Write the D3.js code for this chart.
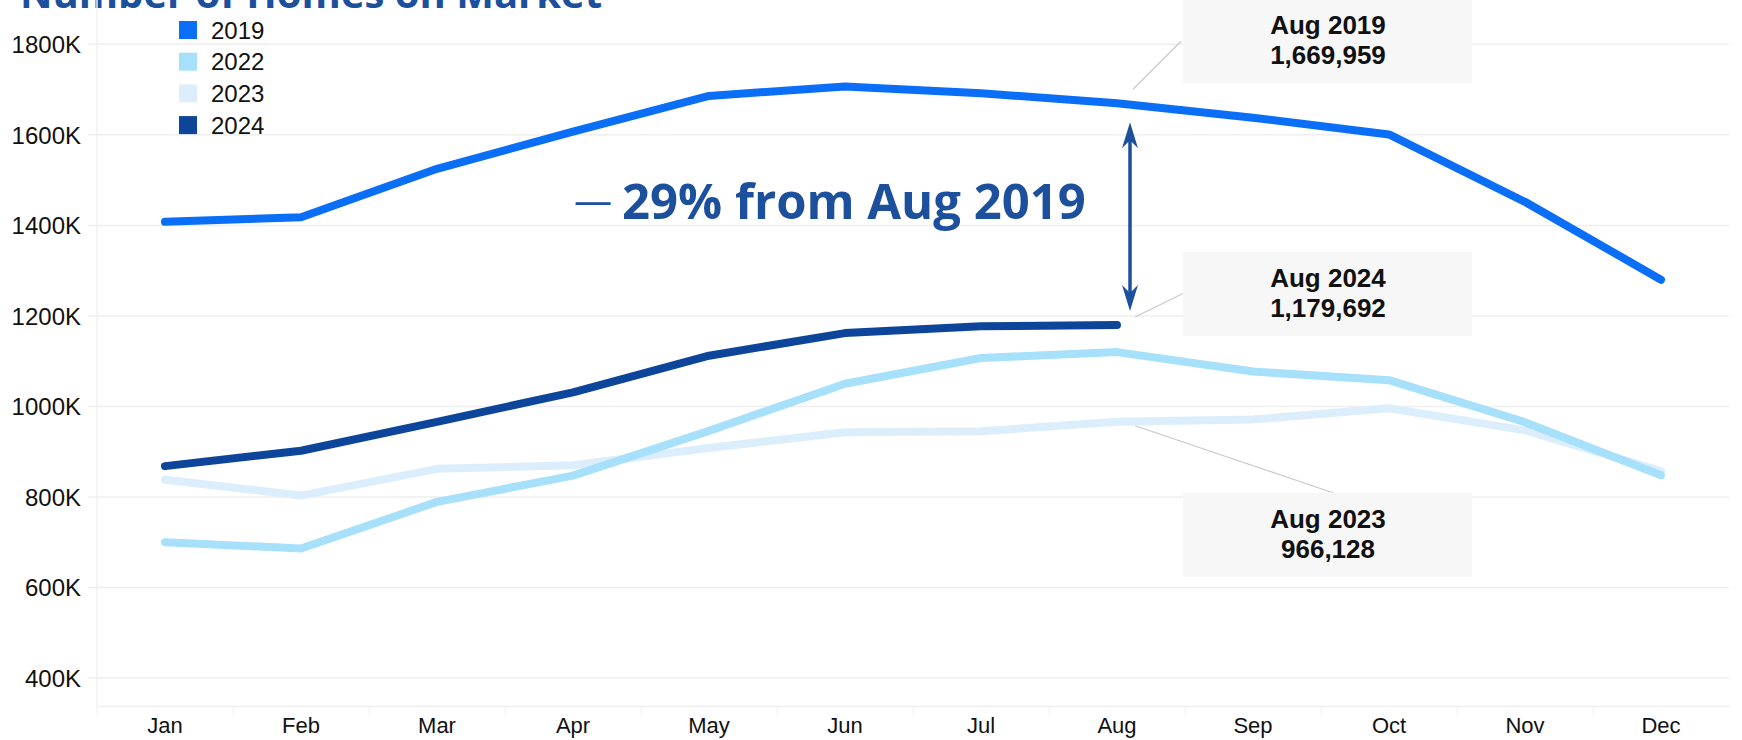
<!DOCTYPE html>
<head>
	<meta charset="utf-8">
	<title>Homes on market</title>
	<script src="https://cdn.jsdelivr.net/npm/d3@7"></script>
	<style>
		body { margin: 0; background: #fff; }
		text { font-family: "Liberation Sans", Arial, sans-serif; }
		.title, .callout { font-family: "Open Sans", sans-serif; font-weight: bold; fill: #1c4f9c; }
		.tick-label { font-size: 24px; fill: #111; }
		.note { font-size: 26px; font-weight: bold; fill: #111; }
	</style>
</head>

<body>
	<div id="chart"></div>
	<script>
		// data (number of homes on market)
		var months = ["Jan", "Feb", "Mar", "Apr", "May", "Jun", "Jul", "Aug", "Sep", "Oct", "Nov", "Dec"];
		var years = ["2019", "2022", "2023", "2024"];
		var v2019 = [1408000, 1418000, 1525000, 1607000, 1686000, 1707000, 1692000, 1669959, 1638000, 1601000, 1452000, 1280000];
		var v2022 = [700000, 686000, 789000, 847000, 946000, 1050000, 1107000, 1120000, 1077000, 1058000, 965000, 848000];
		var v2023 = [838000, 803000, 862000, 870000, 908000, 943000, 945000, 966128, 971000, 996000, 947000, 857000];
		var v2024 = [868000, 902000, 966000, 1031000, 1112000, 1162000, 1177000, 1179692];
		var yTicks = [400000, 600000, 800000, 1000000, 1200000, 1400000, 1600000, 1800000];
		var colors = { "2019": "#0b6ef6", "2022": "#a6e0fa", "2023": "#dceefc", "2024": "#0d459a" };

		var W = 1742, H = 740,
			margin = { top: 0, right: 13, bottom: 34, left: 97 };

		var svg = d3.select("#chart").append("svg")
			.attr("width", W)
			.attr("height", H);

		var x = d3.scaleBand().domain(months).range([margin.left, W - margin.right]).padding(0);
		var cx = function (m) { return x(m) + x.bandwidth() / 2; };
		var y = d3.scaleLinear().domain([338000, 1898000]).range([H - margin.bottom, margin.top]);

		// title, mostly cut off at the top
		svg.append("text")
			.attr("class", "title")
			.attr("x", 20)
			.attr("y", 8)
			.style("font-size", "40px")
			.text("Number of Homes on Market");

		// gridlines + y labels
		var grid = svg.append("g");
		grid.selectAll("line")
			.data(yTicks)
			.enter().append("line")
			.attr("x1", margin.left - 9)
			.attr("x2", W - margin.right)
			.attr("y1", function (d) { return y(d); })
			.attr("y2", function (d) { return y(d); })
			.attr("stroke", "#eeeeee")
			.attr("stroke-width", 1.5);
		grid.selectAll("text")
			.data(yTicks)
			.enter().append("text")
			.attr("class", "tick-label")
			.attr("x", margin.left - 16)
			.attr("y", function (d) { return y(d); })
			.attr("dy", "0.36em")
			.attr("text-anchor", "end")
			.text(function (d) { return (d / 1000) + "K"; });

		// left axis line and bottom axis
		svg.append("line")
			.attr("x1", margin.left).attr("x2", margin.left)
			.attr("y1", y(1898000)).attr("y2", y(338000))
			.attr("stroke", "#f2f2f2").attr("stroke-width", 1.5);

		var xAxis = svg.append("g")
			.attr("transform", "translate(0," + y(338000) + ")")
			.call(d3.axisBottom(x).tickSize(0).tickPadding(11));
		xAxis.select(".domain").attr("stroke", "#eeeeee").attr("stroke-width", 1.5);
		xAxis.selectAll("text").attr("class", "tick-label").style("font-size", "22px").attr("font-family", null);
		// band boundary ticks
		xAxis.selectAll(".bound")
			.data(months)
			.enter().append("line")
			.attr("class", "bound")
			.attr("x1", function (m) { return x(m); })
			.attr("x2", function (m) { return x(m); })
			.attr("y1", 0).attr("y2", 7)
			.attr("stroke", "#eeeeee");

		// lines
		var series = [
			{ year: "2019", values: v2019 },
			{ year: "2023", values: v2023 },
			{ year: "2022", values: v2022 },
			{ year: "2024", values: v2024 }
		];
		var line = d3.line()
			.x(function (d, i) { return cx(months[i]); })
			.y(function (d) { return y(d); });
		svg.selectAll(".series")
			.data(series)
			.enter().append("path")
			.attr("class", "series")
			.attr("d", function (s) { return line(s.values); })
			.attr("fill", "none")
			.attr("stroke", function (s) { return colors[s.year]; })
			.attr("stroke-width", 8)
			.attr("stroke-linecap", "round")
			.attr("stroke-linejoin", "round");

		// legend
		var legend = svg.append("g").attr("transform", "translate(179,30)");
		var row = legend.selectAll("g")
			.data(years)
			.enter().append("g")
			.attr("transform", function (d, i) { return "translate(0," + (i * 31.7) + ")"; });
		row.append("rect")
			.attr("x", 0).attr("y", -9)
			.attr("width", 18).attr("height", 18)
			.attr("fill", function (d) { return colors[d]; });
		row.append("text")
			.attr("class", "tick-label")
			.attr("x", 32)
			.attr("dy", "0.36em")
			.text(function (d) { return d; });

		// Aug callouts
		var aug = cx("Aug");
		var notes = [
			{ label: "Aug 2019", value: v2019[7], top: -104, line: [16, -14, 64, -62] },
			{ label: "Aug 2024", value: v2024[7], top: -73, line: [18, -8, 67, -32] },
			{ label: "Aug 2023", value: v2023[7], top: 71, line: [18, 4, 216, 71] }
		];
		var fmt = d3.format(",");
		notes.forEach(function (n) {
			var py = y(n.value);
			svg.append("line")
				.attr("x1", aug + n.line[0]).attr("y1", py + n.line[1])
				.attr("x2", aug + n.line[2]).attr("y2", py + n.line[3])
				.attr("stroke", "#c9c9c9").attr("stroke-width", 1.2);
			var g = svg.append("g").attr("transform", "translate(" + (aug + 66) + "," + (py + n.top) + ")");
			g.append("rect")
				.attr("width", 289).attr("height", 84)
				.attr("fill", "#f7f7f7");
			g.append("text").attr("class", "note")
				.attr("x", 145).attr("y", 35)
				.attr("text-anchor", "middle")
				.text(n.label);
			g.append("text").attr("class", "note")
				.attr("x", 145).attr("y", 65)
				.attr("text-anchor", "middle")
				.text(fmt(n.value));
		});

		// double arrow between Aug 2019 and Aug 2024
		var ax = aug + 13,
			ay1 = y(v2019[7]) + 19,
			ay2 = y(v2024[7]) - 14;
		svg.append("line")
			.attr("x1", ax).attr("x2", ax)
			.attr("y1", ay1 + 10).attr("y2", ay2 - 10)
			.attr("stroke", "#1c4f9c").attr("stroke-width", 3.5);
		svg.append("path")
			.attr("d", "M" + ax + "," + ay1 + "l8,26l-8,-8l-8,8z")
			.attr("fill", "#1c4f9c");
		svg.append("path")
			.attr("d", "M" + ax + "," + ay2 + "l8,-26l-8,8l-8,-8z")
			.attr("fill", "#1c4f9c");

		svg.append("text")
			.attr("class", "callout")
			.attr("x", 622)
			.attr("y", 219)
			.style("font-size", "49px")
			.text("29% from Aug 2019");
		svg.append("text")
			.attr("x", 612)
			.attr("y", 214)
			.attr("text-anchor", "end")
			.style("font-family", "'Open Sans', sans-serif")
			.style("font-size", "38px")
			.attr("fill", "#1c4f9c")
			.text("—");
	</script>
</body>
